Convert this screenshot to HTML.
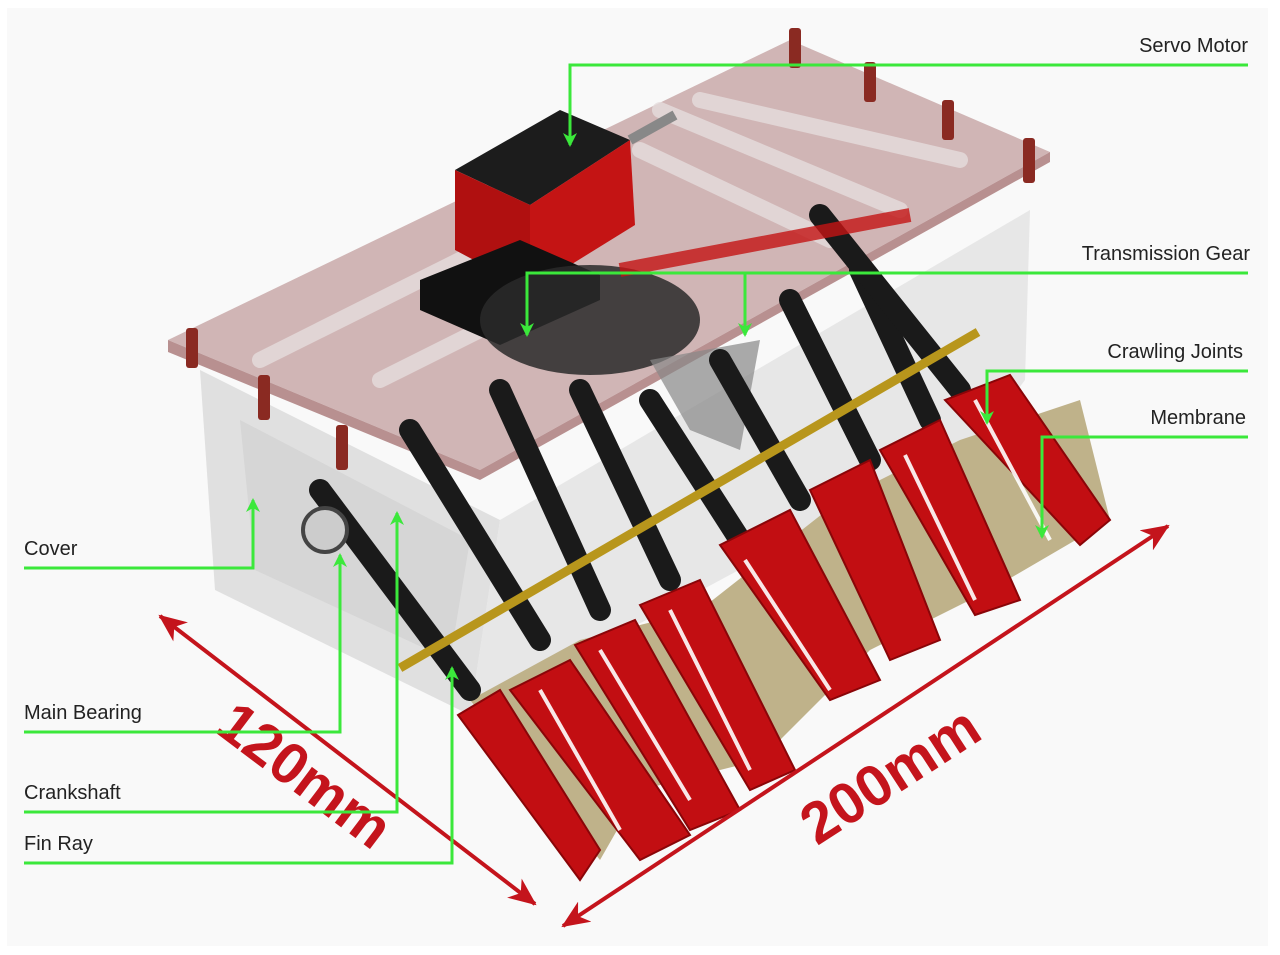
<!DOCTYPE html>
<html><head><meta charset="utf-8"><style>
html,body{margin:0;padding:0;background:#fff;width:1280px;height:955px;overflow:hidden}
svg{display:block}
.lbl{font-family:"Liberation Sans",sans-serif;font-size:20px;fill:#222}
.gl{stroke:#3be83b;stroke-width:3;fill:none}
</style></head><body>
<svg width="1280" height="955" viewBox="0 0 1280 955">
<defs>
<marker id="ga" markerWidth="14" markerHeight="14" refX="12" refY="7" orient="auto" markerUnits="userSpaceOnUse" viewBox="0 0 14 14"><path d="M0,0 L14,7 L0,14 L4,7z" fill="#3be83b"/></marker>
<marker id="ra" markerWidth="30" markerHeight="24" refX="26" refY="12" orient="auto-start-reverse" markerUnits="userSpaceOnUse"><path d="M0,0 L28,12 L0,24 L8,12z" fill="#c4141c"/></marker>
</defs>
<rect x="7" y="8" width="1261" height="938" fill="#f9f9f9"/>
<g>
<polygon points="200,370 215,590 470,715 500,520" fill="#d9d9d9" opacity="0.8"/>
<polygon points="500,520 1030,210 1025,380 980,440 470,715" fill="#e2e2e2" opacity="0.8"/>
<polygon points="240,420 255,570 450,660 470,540" fill="#cfcfcf" opacity="0.6"/>
</g>
<g>
<polygon points="168,340 790,40 1050,152 480,470" fill="#c9a9a9" opacity="0.85"/>
<polygon points="168,340 480,470 480,480 168,352" fill="#b89090"/>
<polygon points="480,470 1050,152 1050,162 480,480" fill="#b89090"/>
<g stroke="#e6dede" stroke-width="16" stroke-linecap="round" opacity="0.8">
<line x1="260" y1="360" x2="560" y2="210"/><line x1="320" y1="330" x2="600" y2="190"/>
<line x1="380" y1="380" x2="520" y2="310"/><line x1="660" y1="110" x2="900" y2="210"/>
<line x1="700" y1="100" x2="960" y2="160"/><line x1="640" y1="150" x2="830" y2="240"/>
</g>
</g>
<g fill="#8a2a22">
<rect x="186" y="328" width="12" height="40" rx="3"/><rect x="258" y="375" width="12" height="45" rx="3"/>
<rect x="336" y="425" width="12" height="45" rx="3"/><rect x="789" y="28" width="12" height="40" rx="3"/>
<rect x="864" y="62" width="12" height="40" rx="3"/><rect x="942" y="100" width="12" height="40" rx="3"/>
<rect x="1023" y="138" width="12" height="45" rx="3"/>
</g>
<g>
<polygon points="455,170 560,110 630,140 530,205" fill="#1c1c1c"/>
<polygon points="455,170 530,205 530,290 455,250" fill="#b01010"/>
<polygon points="530,205 630,140 635,225 530,290" fill="#c41414"/>
<polygon points="420,280 520,240 600,275 600,300 500,345 420,310" fill="#111"/>
<line x1="630" y1="140" x2="675" y2="115" stroke="#888" stroke-width="10"/>
</g>
<ellipse cx="590" cy="320" rx="110" ry="55" fill="#2a2a2a" opacity="0.85"/>
<polygon points="650,360 760,340 740,450 690,430" fill="#888" opacity="0.7"/>
<polygon points="470,700 580,640 700,610 840,500 960,440 1080,400 1110,520 990,590 870,650 760,760 640,790 600,860" fill="#bfb28a"/>
<g stroke="#1a1a1a" stroke-width="22" stroke-linecap="round">
<line x1="320" y1="490" x2="470" y2="690"/><line x1="410" y1="430" x2="540" y2="640"/>
<line x1="500" y1="390" x2="600" y2="610"/><line x1="580" y1="390" x2="670" y2="580"/>
<line x1="650" y1="400" x2="740" y2="540"/><line x1="720" y1="360" x2="800" y2="500"/>
<line x1="790" y1="300" x2="870" y2="460"/><line x1="860" y1="270" x2="930" y2="420"/>
<line x1="820" y1="215" x2="960" y2="390"/>
</g>
<line x1="400" y1="668" x2="978" y2="332" stroke="#b8961c" stroke-width="9"/>
<line x1="620" y1="270" x2="910" y2="215" stroke="#c41414" stroke-width="14" opacity="0.8"/>
<circle cx="325" cy="530" r="22" fill="#ccc" stroke="#444" stroke-width="4"/>
<g fill="#c20e12" stroke="#8a0508" stroke-width="2">
<polygon points="458,715 500,690 600,850 580,880"/><polygon points="510,690 570,660 690,835 640,860"/>
<polygon points="575,645 635,620 740,810 690,830"/><polygon points="640,605 700,580 795,770 750,790"/>
<polygon points="720,545 790,510 880,680 830,700"/><polygon points="810,490 870,460 940,640 890,660"/>
<polygon points="880,450 940,420 1020,600 975,615"/><polygon points="945,400 1010,375 1110,520 1080,545"/>
</g>
<g stroke="#fff" stroke-width="4" opacity="0.9">
<line x1="540" y1="690" x2="620" y2="830"/><line x1="600" y1="650" x2="690" y2="800"/>
<line x1="670" y1="610" x2="750" y2="770"/><line x1="745" y1="560" x2="830" y2="690"/>
<line x1="905" y1="455" x2="975" y2="600"/><line x1="975" y1="400" x2="1050" y2="540"/>
</g>
<line x1="160" y1="616" x2="535" y2="904" stroke="#c4141c" stroke-width="4" marker-start="url(#ra)" marker-end="url(#ra)"/>
<line x1="563" y1="926" x2="1168" y2="526" stroke="#c4141c" stroke-width="4" marker-start="url(#ra)" marker-end="url(#ra)"/>
<text x="305" y="795" transform="rotate(37 305 775)" text-anchor="middle" font-family="Liberation Sans,sans-serif" font-weight="bold" font-size="58" fill="#c4141c">120mm</text>
<text x="890" y="795" transform="rotate(-33 890 775)" text-anchor="middle" font-family="Liberation Sans,sans-serif" font-weight="bold" font-size="58" fill="#c4141c">200mm</text>
<g><text class="lbl" x="1248" y="52" text-anchor="end">Servo Motor</text><polyline class="gl" points="1248,65 570,65 570,145" marker-end="url(#ga)"/></g>
<g><text class="lbl" x="1250" y="260" text-anchor="end">Transmission Gear</text><polyline class="gl" points="1248,273 527,273 527,335" marker-end="url(#ga)"/><polyline class="gl" points="745,273 745,335" marker-end="url(#ga)"/></g>
<g><text class="lbl" x="1243" y="358" text-anchor="end">Crawling Joints</text><polyline class="gl" points="1248,371 987,371 987,423" marker-end="url(#ga)"/></g>
<g><text class="lbl" x="1246" y="424" text-anchor="end">Membrane</text><polyline class="gl" points="1248,437 1042,437 1042,537" marker-end="url(#ga)"/></g>
<g><text class="lbl" x="24" y="555">Cover</text><polyline class="gl" points="24,568 253,568 253,500" marker-end="url(#ga)"/></g>
<g><text class="lbl" x="24" y="719">Main Bearing</text><polyline class="gl" points="24,732 340,732 340,555" marker-end="url(#ga)"/></g>
<g><text class="lbl" x="24" y="799">Crankshaft</text><polyline class="gl" points="24,812 397,812 397,513" marker-end="url(#ga)"/></g>
<g><text class="lbl" x="24" y="850">Fin Ray</text><polyline class="gl" points="24,863 452,863 452,668" marker-end="url(#ga)"/></g>
</svg>
</body></html>
